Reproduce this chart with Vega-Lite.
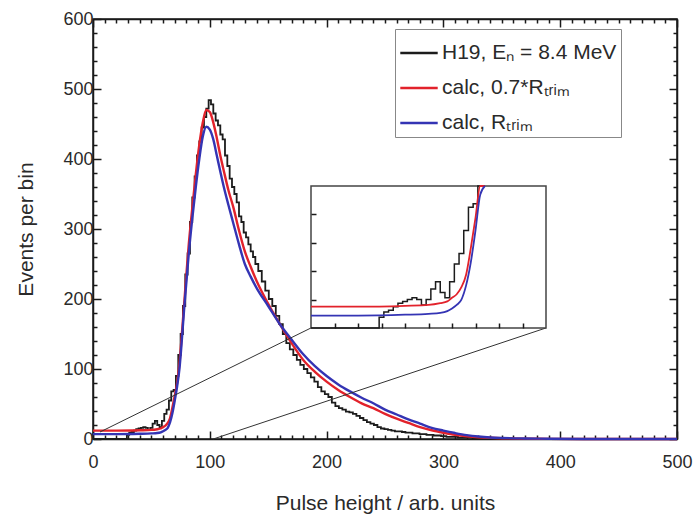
{
  "$schema": "https://vega.github.io/schema/vega-lite/v6.json",
  "width": 584,
  "height": 420,
  "autosize": {"type": "none"},
  "padding": {"left": 93, "top": 19, "right": 18, "bottom": 75},
  "datasets": {
    "curves": [
      {"ph": 0, "n": 0, "series": "H19, Eₙ = 8.4 MeV"},
      {"ph": 28, "n": 0, "series": "H19, Eₙ = 8.4 MeV"},
      {"ph": 30, "n": 6, "series": "H19, Eₙ = 8.4 MeV"},
      {"ph": 32, "n": 9, "series": "H19, Eₙ = 8.4 MeV"},
      {"ph": 34, "n": 10, "series": "H19, Eₙ = 8.4 MeV"},
      {"ph": 36, "n": 12, "series": "H19, Eₙ = 8.4 MeV"},
      {"ph": 38, "n": 14, "series": "H19, Eₙ = 8.4 MeV"},
      {"ph": 40, "n": 15, "series": "H19, Eₙ = 8.4 MeV"},
      {"ph": 42, "n": 16, "series": "H19, Eₙ = 8.4 MeV"},
      {"ph": 44, "n": 17, "series": "H19, Eₙ = 8.4 MeV"},
      {"ph": 46, "n": 16, "series": "H19, Eₙ = 8.4 MeV"},
      {"ph": 48, "n": 13, "series": "H19, Eₙ = 8.4 MeV"},
      {"ph": 50, "n": 16, "series": "H19, Eₙ = 8.4 MeV"},
      {"ph": 52, "n": 22, "series": "H19, Eₙ = 8.4 MeV"},
      {"ph": 54, "n": 26, "series": "H19, Eₙ = 8.4 MeV"},
      {"ph": 56, "n": 20, "series": "H19, Eₙ = 8.4 MeV"},
      {"ph": 58, "n": 17, "series": "H19, Eₙ = 8.4 MeV"},
      {"ph": 60, "n": 26, "series": "H19, Eₙ = 8.4 MeV"},
      {"ph": 62, "n": 36, "series": "H19, Eₙ = 8.4 MeV"},
      {"ph": 64, "n": 42, "series": "H19, Eₙ = 8.4 MeV"},
      {"ph": 66, "n": 55, "series": "H19, Eₙ = 8.4 MeV"},
      {"ph": 68, "n": 68, "series": "H19, Eₙ = 8.4 MeV"},
      {"ph": 70, "n": 70, "series": "H19, Eₙ = 8.4 MeV"},
      {"ph": 72, "n": 90, "series": "H19, Eₙ = 8.4 MeV"},
      {"ph": 74, "n": 120, "series": "H19, Eₙ = 8.4 MeV"},
      {"ph": 76, "n": 150, "series": "H19, Eₙ = 8.4 MeV"},
      {"ph": 78, "n": 190, "series": "H19, Eₙ = 8.4 MeV"},
      {"ph": 80, "n": 235, "series": "H19, Eₙ = 8.4 MeV"},
      {"ph": 82, "n": 265, "series": "H19, Eₙ = 8.4 MeV"},
      {"ph": 84, "n": 310, "series": "H19, Eₙ = 8.4 MeV"},
      {"ph": 86, "n": 345, "series": "H19, Eₙ = 8.4 MeV"},
      {"ph": 88, "n": 375, "series": "H19, Eₙ = 8.4 MeV"},
      {"ph": 90, "n": 405, "series": "H19, Eₙ = 8.4 MeV"},
      {"ph": 92, "n": 425, "series": "H19, Eₙ = 8.4 MeV"},
      {"ph": 94, "n": 445, "series": "H19, Eₙ = 8.4 MeV"},
      {"ph": 96, "n": 460, "series": "H19, Eₙ = 8.4 MeV"},
      {"ph": 98, "n": 472, "series": "H19, Eₙ = 8.4 MeV"},
      {"ph": 100, "n": 484, "series": "H19, Eₙ = 8.4 MeV"},
      {"ph": 102, "n": 478, "series": "H19, Eₙ = 8.4 MeV"},
      {"ph": 104, "n": 465, "series": "H19, Eₙ = 8.4 MeV"},
      {"ph": 106, "n": 455, "series": "H19, Eₙ = 8.4 MeV"},
      {"ph": 108, "n": 448, "series": "H19, Eₙ = 8.4 MeV"},
      {"ph": 110, "n": 435, "series": "H19, Eₙ = 8.4 MeV"},
      {"ph": 112, "n": 428, "series": "H19, Eₙ = 8.4 MeV"},
      {"ph": 114, "n": 405, "series": "H19, Eₙ = 8.4 MeV"},
      {"ph": 116, "n": 390, "series": "H19, Eₙ = 8.4 MeV"},
      {"ph": 118, "n": 372, "series": "H19, Eₙ = 8.4 MeV"},
      {"ph": 120, "n": 360, "series": "H19, Eₙ = 8.4 MeV"},
      {"ph": 122, "n": 350, "series": "H19, Eₙ = 8.4 MeV"},
      {"ph": 124, "n": 338, "series": "H19, Eₙ = 8.4 MeV"},
      {"ph": 126, "n": 318, "series": "H19, Eₙ = 8.4 MeV"},
      {"ph": 128, "n": 310, "series": "H19, Eₙ = 8.4 MeV"},
      {"ph": 130, "n": 295, "series": "H19, Eₙ = 8.4 MeV"},
      {"ph": 132, "n": 288, "series": "H19, Eₙ = 8.4 MeV"},
      {"ph": 134, "n": 278, "series": "H19, Eₙ = 8.4 MeV"},
      {"ph": 136, "n": 268, "series": "H19, Eₙ = 8.4 MeV"},
      {"ph": 138, "n": 260, "series": "H19, Eₙ = 8.4 MeV"},
      {"ph": 140, "n": 250, "series": "H19, Eₙ = 8.4 MeV"},
      {"ph": 143, "n": 240, "series": "H19, Eₙ = 8.4 MeV"},
      {"ph": 146, "n": 225, "series": "H19, Eₙ = 8.4 MeV"},
      {"ph": 149, "n": 212, "series": "H19, Eₙ = 8.4 MeV"},
      {"ph": 152, "n": 200, "series": "H19, Eₙ = 8.4 MeV"},
      {"ph": 155, "n": 190, "series": "H19, Eₙ = 8.4 MeV"},
      {"ph": 158, "n": 176, "series": "H19, Eₙ = 8.4 MeV"},
      {"ph": 161, "n": 164, "series": "H19, Eₙ = 8.4 MeV"},
      {"ph": 164, "n": 150, "series": "H19, Eₙ = 8.4 MeV"},
      {"ph": 167, "n": 137, "series": "H19, Eₙ = 8.4 MeV"},
      {"ph": 170, "n": 128, "series": "H19, Eₙ = 8.4 MeV"},
      {"ph": 173, "n": 120, "series": "H19, Eₙ = 8.4 MeV"},
      {"ph": 176, "n": 113, "series": "H19, Eₙ = 8.4 MeV"},
      {"ph": 179, "n": 106, "series": "H19, Eₙ = 8.4 MeV"},
      {"ph": 182, "n": 100, "series": "H19, Eₙ = 8.4 MeV"},
      {"ph": 185, "n": 94, "series": "H19, Eₙ = 8.4 MeV"},
      {"ph": 188, "n": 88, "series": "H19, Eₙ = 8.4 MeV"},
      {"ph": 191, "n": 82, "series": "H19, Eₙ = 8.4 MeV"},
      {"ph": 194, "n": 74, "series": "H19, Eₙ = 8.4 MeV"},
      {"ph": 197, "n": 68, "series": "H19, Eₙ = 8.4 MeV"},
      {"ph": 200, "n": 64, "series": "H19, Eₙ = 8.4 MeV"},
      {"ph": 203, "n": 60, "series": "H19, Eₙ = 8.4 MeV"},
      {"ph": 206, "n": 52, "series": "H19, Eₙ = 8.4 MeV"},
      {"ph": 209, "n": 47, "series": "H19, Eₙ = 8.4 MeV"},
      {"ph": 212, "n": 44, "series": "H19, Eₙ = 8.4 MeV"},
      {"ph": 215, "n": 42, "series": "H19, Eₙ = 8.4 MeV"},
      {"ph": 218, "n": 39, "series": "H19, Eₙ = 8.4 MeV"},
      {"ph": 221, "n": 38, "series": "H19, Eₙ = 8.4 MeV"},
      {"ph": 224, "n": 36, "series": "H19, Eₙ = 8.4 MeV"},
      {"ph": 227, "n": 33, "series": "H19, Eₙ = 8.4 MeV"},
      {"ph": 230, "n": 30, "series": "H19, Eₙ = 8.4 MeV"},
      {"ph": 233, "n": 27, "series": "H19, Eₙ = 8.4 MeV"},
      {"ph": 236, "n": 24, "series": "H19, Eₙ = 8.4 MeV"},
      {"ph": 239, "n": 22, "series": "H19, Eₙ = 8.4 MeV"},
      {"ph": 242, "n": 20, "series": "H19, Eₙ = 8.4 MeV"},
      {"ph": 245, "n": 17, "series": "H19, Eₙ = 8.4 MeV"},
      {"ph": 248, "n": 15, "series": "H19, Eₙ = 8.4 MeV"},
      {"ph": 251, "n": 14, "series": "H19, Eₙ = 8.4 MeV"},
      {"ph": 254, "n": 13, "series": "H19, Eₙ = 8.4 MeV"},
      {"ph": 257, "n": 12, "series": "H19, Eₙ = 8.4 MeV"},
      {"ph": 260, "n": 11, "series": "H19, Eₙ = 8.4 MeV"},
      {"ph": 263, "n": 11, "series": "H19, Eₙ = 8.4 MeV"},
      {"ph": 266, "n": 10, "series": "H19, Eₙ = 8.4 MeV"},
      {"ph": 269, "n": 9, "series": "H19, Eₙ = 8.4 MeV"},
      {"ph": 272, "n": 9, "series": "H19, Eₙ = 8.4 MeV"},
      {"ph": 275, "n": 8, "series": "H19, Eₙ = 8.4 MeV"},
      {"ph": 278, "n": 8, "series": "H19, Eₙ = 8.4 MeV"},
      {"ph": 281, "n": 7, "series": "H19, Eₙ = 8.4 MeV"},
      {"ph": 284, "n": 7, "series": "H19, Eₙ = 8.4 MeV"},
      {"ph": 287, "n": 6, "series": "H19, Eₙ = 8.4 MeV"},
      {"ph": 290, "n": 6, "series": "H19, Eₙ = 8.4 MeV"},
      {"ph": 293, "n": 5, "series": "H19, Eₙ = 8.4 MeV"},
      {"ph": 296, "n": 5, "series": "H19, Eₙ = 8.4 MeV"},
      {"ph": 300, "n": 4, "series": "H19, Eₙ = 8.4 MeV"},
      {"ph": 305, "n": 3, "series": "H19, Eₙ = 8.4 MeV"},
      {"ph": 310, "n": 3, "series": "H19, Eₙ = 8.4 MeV"},
      {"ph": 315, "n": 2, "series": "H19, Eₙ = 8.4 MeV"},
      {"ph": 320, "n": 2, "series": "H19, Eₙ = 8.4 MeV"},
      {"ph": 330, "n": 1, "series": "H19, Eₙ = 8.4 MeV"},
      {"ph": 340, "n": 1, "series": "H19, Eₙ = 8.4 MeV"},
      {"ph": 350, "n": 0.5, "series": "H19, Eₙ = 8.4 MeV"},
      {"ph": 370, "n": 0, "series": "H19, Eₙ = 8.4 MeV"},
      {"ph": 500, "n": 0, "series": "H19, Eₙ = 8.4 MeV"},

      {"ph": 0, "n": 12, "series": "calc, 0.7*Rₜᵣᵢₘ"},
      {"ph": 20, "n": 12, "series": "calc, 0.7*Rₜᵣᵢₘ"},
      {"ph": 40, "n": 12.5, "series": "calc, 0.7*Rₜᵣᵢₘ"},
      {"ph": 50, "n": 13, "series": "calc, 0.7*Rₜᵣᵢₘ"},
      {"ph": 55, "n": 14, "series": "calc, 0.7*Rₜᵣᵢₘ"},
      {"ph": 58, "n": 15, "series": "calc, 0.7*Rₜᵣᵢₘ"},
      {"ph": 60, "n": 17, "series": "calc, 0.7*Rₜᵣᵢₘ"},
      {"ph": 62, "n": 19, "series": "calc, 0.7*Rₜᵣᵢₘ"},
      {"ph": 64, "n": 23, "series": "calc, 0.7*Rₜᵣᵢₘ"},
      {"ph": 66, "n": 30, "series": "calc, 0.7*Rₜᵣᵢₘ"},
      {"ph": 68, "n": 45, "series": "calc, 0.7*Rₜᵣᵢₘ"},
      {"ph": 70, "n": 62, "series": "calc, 0.7*Rₜᵣᵢₘ"},
      {"ph": 72, "n": 80, "series": "calc, 0.7*Rₜᵣᵢₘ"},
      {"ph": 74, "n": 108, "series": "calc, 0.7*Rₜᵣᵢₘ"},
      {"ph": 76, "n": 148, "series": "calc, 0.7*Rₜᵣᵢₘ"},
      {"ph": 78, "n": 192, "series": "calc, 0.7*Rₜᵣᵢₘ"},
      {"ph": 80, "n": 236, "series": "calc, 0.7*Rₜᵣᵢₘ"},
      {"ph": 82, "n": 278, "series": "calc, 0.7*Rₜᵣᵢₘ"},
      {"ph": 85, "n": 330, "series": "calc, 0.7*Rₜᵣᵢₘ"},
      {"ph": 88, "n": 378, "series": "calc, 0.7*Rₜᵣᵢₘ"},
      {"ph": 91, "n": 420, "series": "calc, 0.7*Rₜᵣᵢₘ"},
      {"ph": 94, "n": 452, "series": "calc, 0.7*Rₜᵣᵢₘ"},
      {"ph": 97, "n": 470, "series": "calc, 0.7*Rₜᵣᵢₘ"},
      {"ph": 100, "n": 467, "series": "calc, 0.7*Rₜᵣᵢₘ"},
      {"ph": 103, "n": 452, "series": "calc, 0.7*Rₜᵣᵢₘ"},
      {"ph": 106, "n": 430, "series": "calc, 0.7*Rₜᵣᵢₘ"},
      {"ph": 109, "n": 405, "series": "calc, 0.7*Rₜᵣᵢₘ"},
      {"ph": 112, "n": 383, "series": "calc, 0.7*Rₜᵣᵢₘ"},
      {"ph": 116, "n": 355, "series": "calc, 0.7*Rₜᵣᵢₘ"},
      {"ph": 120, "n": 332, "series": "calc, 0.7*Rₜᵣᵢₘ"},
      {"ph": 125, "n": 298, "series": "calc, 0.7*Rₜᵣᵢₘ"},
      {"ph": 130, "n": 268, "series": "calc, 0.7*Rₜᵣᵢₘ"},
      {"ph": 135, "n": 246, "series": "calc, 0.7*Rₜᵣᵢₘ"},
      {"ph": 140, "n": 226, "series": "calc, 0.7*Rₜᵣᵢₘ"},
      {"ph": 150, "n": 193, "series": "calc, 0.7*Rₜᵣᵢₘ"},
      {"ph": 160, "n": 164, "series": "calc, 0.7*Rₜᵣᵢₘ"},
      {"ph": 170, "n": 137, "series": "calc, 0.7*Rₜᵣᵢₘ"},
      {"ph": 180, "n": 113, "series": "calc, 0.7*Rₜᵣᵢₘ"},
      {"ph": 190, "n": 96, "series": "calc, 0.7*Rₜᵣᵢₘ"},
      {"ph": 200, "n": 82, "series": "calc, 0.7*Rₜᵣᵢₘ"},
      {"ph": 210, "n": 70, "series": "calc, 0.7*Rₜᵣᵢₘ"},
      {"ph": 220, "n": 60, "series": "calc, 0.7*Rₜᵣᵢₘ"},
      {"ph": 230, "n": 51, "series": "calc, 0.7*Rₜᵣᵢₘ"},
      {"ph": 240, "n": 44, "series": "calc, 0.7*Rₜᵣᵢₘ"},
      {"ph": 250, "n": 36, "series": "calc, 0.7*Rₜᵣᵢₘ"},
      {"ph": 260, "n": 29, "series": "calc, 0.7*Rₜᵣᵢₘ"},
      {"ph": 270, "n": 23, "series": "calc, 0.7*Rₜᵣᵢₘ"},
      {"ph": 280, "n": 17, "series": "calc, 0.7*Rₜᵣᵢₘ"},
      {"ph": 290, "n": 12.5, "series": "calc, 0.7*Rₜᵣᵢₘ"},
      {"ph": 300, "n": 9, "series": "calc, 0.7*Rₜᵣᵢₘ"},
      {"ph": 310, "n": 6, "series": "calc, 0.7*Rₜᵣᵢₘ"},
      {"ph": 320, "n": 4, "series": "calc, 0.7*Rₜᵣᵢₘ"},
      {"ph": 330, "n": 2.6, "series": "calc, 0.7*Rₜᵣᵢₘ"},
      {"ph": 340, "n": 1.7, "series": "calc, 0.7*Rₜᵣᵢₘ"},
      {"ph": 350, "n": 1.1, "series": "calc, 0.7*Rₜᵣᵢₘ"},
      {"ph": 370, "n": 0.5, "series": "calc, 0.7*Rₜᵣᵢₘ"},
      {"ph": 390, "n": 0.2, "series": "calc, 0.7*Rₜᵣᵢₘ"},
      {"ph": 420, "n": 0, "series": "calc, 0.7*Rₜᵣᵢₘ"},
      {"ph": 500, "n": 0, "series": "calc, 0.7*Rₜᵣᵢₘ"},

      {"ph": 0, "n": 7, "series": "calc, Rₜᵣᵢₘ"},
      {"ph": 20, "n": 7, "series": "calc, Rₜᵣᵢₘ"},
      {"ph": 40, "n": 7.5, "series": "calc, Rₜᵣᵢₘ"},
      {"ph": 50, "n": 8, "series": "calc, Rₜᵣᵢₘ"},
      {"ph": 55, "n": 8.5, "series": "calc, Rₜᵣᵢₘ"},
      {"ph": 58, "n": 9.5, "series": "calc, Rₜᵣᵢₘ"},
      {"ph": 60, "n": 11, "series": "calc, Rₜᵣᵢₘ"},
      {"ph": 62, "n": 13, "series": "calc, Rₜᵣᵢₘ"},
      {"ph": 64, "n": 16, "series": "calc, Rₜᵣᵢₘ"},
      {"ph": 66, "n": 24, "series": "calc, Rₜᵣᵢₘ"},
      {"ph": 68, "n": 37, "series": "calc, Rₜᵣᵢₘ"},
      {"ph": 70, "n": 55, "series": "calc, Rₜᵣᵢₘ"},
      {"ph": 72, "n": 75, "series": "calc, Rₜᵣᵢₘ"},
      {"ph": 74, "n": 100, "series": "calc, Rₜᵣᵢₘ"},
      {"ph": 76, "n": 140, "series": "calc, Rₜᵣᵢₘ"},
      {"ph": 78, "n": 185, "series": "calc, Rₜᵣᵢₘ"},
      {"ph": 80, "n": 225, "series": "calc, Rₜᵣᵢₘ"},
      {"ph": 82, "n": 265, "series": "calc, Rₜᵣᵢₘ"},
      {"ph": 85, "n": 315, "series": "calc, Rₜᵣᵢₘ"},
      {"ph": 88, "n": 360, "series": "calc, Rₜᵣᵢₘ"},
      {"ph": 91, "n": 400, "series": "calc, Rₜᵣᵢₘ"},
      {"ph": 94, "n": 432, "series": "calc, Rₜᵣᵢₘ"},
      {"ph": 97, "n": 446, "series": "calc, Rₜᵣᵢₘ"},
      {"ph": 100, "n": 442, "series": "calc, Rₜᵣᵢₘ"},
      {"ph": 103, "n": 428, "series": "calc, Rₜᵣᵢₘ"},
      {"ph": 106, "n": 405, "series": "calc, Rₜᵣᵢₘ"},
      {"ph": 109, "n": 382, "series": "calc, Rₜᵣᵢₘ"},
      {"ph": 112, "n": 360, "series": "calc, Rₜᵣᵢₘ"},
      {"ph": 116, "n": 334, "series": "calc, Rₜᵣᵢₘ"},
      {"ph": 120, "n": 309, "series": "calc, Rₜᵣᵢₘ"},
      {"ph": 125, "n": 278, "series": "calc, Rₜᵣᵢₘ"},
      {"ph": 130, "n": 250, "series": "calc, Rₜᵣᵢₘ"},
      {"ph": 135, "n": 232, "series": "calc, Rₜᵣᵢₘ"},
      {"ph": 140, "n": 216, "series": "calc, Rₜᵣᵢₘ"},
      {"ph": 150, "n": 190, "series": "calc, Rₜᵣᵢₘ"},
      {"ph": 160, "n": 164, "series": "calc, Rₜᵣᵢₘ"},
      {"ph": 170, "n": 142, "series": "calc, Rₜᵣᵢₘ"},
      {"ph": 180, "n": 121, "series": "calc, Rₜᵣᵢₘ"},
      {"ph": 190, "n": 104, "series": "calc, Rₜᵣᵢₘ"},
      {"ph": 200, "n": 90, "series": "calc, Rₜᵣᵢₘ"},
      {"ph": 210, "n": 78, "series": "calc, Rₜᵣᵢₘ"},
      {"ph": 220, "n": 68, "series": "calc, Rₜᵣᵢₘ"},
      {"ph": 230, "n": 59, "series": "calc, Rₜᵣᵢₘ"},
      {"ph": 240, "n": 51, "series": "calc, Rₜᵣᵢₘ"},
      {"ph": 250, "n": 42, "series": "calc, Rₜᵣᵢₘ"},
      {"ph": 260, "n": 35, "series": "calc, Rₜᵣᵢₘ"},
      {"ph": 270, "n": 28, "series": "calc, Rₜᵣᵢₘ"},
      {"ph": 280, "n": 22, "series": "calc, Rₜᵣᵢₘ"},
      {"ph": 290, "n": 16, "series": "calc, Rₜᵣᵢₘ"},
      {"ph": 300, "n": 12, "series": "calc, Rₜᵣᵢₘ"},
      {"ph": 310, "n": 8.5, "series": "calc, Rₜᵣᵢₘ"},
      {"ph": 320, "n": 5.5, "series": "calc, Rₜᵣᵢₘ"},
      {"ph": 330, "n": 3.5, "series": "calc, Rₜᵣᵢₘ"},
      {"ph": 340, "n": 2.2, "series": "calc, Rₜᵣᵢₘ"},
      {"ph": 350, "n": 1.5, "series": "calc, Rₜᵣᵢₘ"},
      {"ph": 370, "n": 0.8, "series": "calc, Rₜᵣᵢₘ"},
      {"ph": 390, "n": 0.4, "series": "calc, Rₜᵣᵢₘ"},
      {"ph": 420, "n": 0.1, "series": "calc, Rₜᵣᵢₘ"},
      {"ph": 500, "n": 0, "series": "calc, Rₜᵣᵢₘ"}
    ],
    "connectors": [
      {"x1": 6, "y1": 10, "x2": 186.6, "y2": 158.6},
      {"x1": 103, "y1": 0, "x2": 387.8, "y2": 158.6}
    ]
  },
  "config": {
    "font": "Liberation Sans",
    "view": {"stroke": "#1a1a1a", "strokeWidth": 1.5},
    "axis": {
      "labelFont": "Liberation Sans",
      "titleFont": "Liberation Sans",
      "labelColor": "#2a2a2a",
      "titleColor": "#2a2a2a",
      "titleFontWeight": "normal",
      "domainColor": "#1a1a1a",
      "domainWidth": 1.5,
      "tickColor": "#1a1a1a",
      "tickWidth": 1.5,
      "grid": false
    }
  },
  "layer": [
    {
      "layer": [
        {
          "data": {"name": "curves"},
          "transform": [{"filter": "datum.series === 'H19, Eₙ = 8.4 MeV'"}],
          "mark": {"type": "line", "interpolate": "step", "strokeWidth": 1.8},
          "encoding": {
            "x": {
              "field": "ph", "type": "quantitative",
              "scale": {"domain": [0, 500], "nice": false},
              "axis": {
                "orient": "bottom",
                "title": "Pulse height / arb. units",
                "titleFontSize": 21,
                "titlePadding": 21,
                "values": [0,10,20,30,40,50,60,70,80,90,100,110,120,130,140,150,160,170,180,190,200,210,220,230,240,250,260,270,280,290,300,310,320,330,340,350,360,370,380,390,400,410,420,430,440,450,460,470,480,490,500],
                "labelExpr": "datum.value % 100 === 0 ? datum.label : ''",
                "labelFontSize": 18,
                "labelPadding": 22,
                "labelFlush": false,
                "tickSize": {"condition": {"test": "datum.value % 100 === 0", "value": -8}, "value": -4}
              }
            },
            "y": {
              "field": "n", "type": "quantitative",
              "scale": {"domain": [0, 600], "nice": false},
              "axis": {
                "orient": "left",
                "title": "Events per bin",
                "titleFontSize": 21,
                "titlePadding": 26,
                "values": [0,20,40,60,80,100,120,140,160,180,200,220,240,260,280,300,320,340,360,380,400,420,440,460,480,500,520,540,560,580,600],
                "labelExpr": "datum.value % 100 === 0 ? datum.label : ''",
                "labelFontSize": 18,
                "labelPadding": 8,
                "labelFlush": false,
                "tickSize": {"condition": {"test": "datum.value % 100 === 0", "value": -8}, "value": -4}
              }
            },
            "color": {
              "field": "series", "type": "nominal",
              "scale": {
                "domain": ["H19, Eₙ = 8.4 MeV", "calc, 0.7*Rₜᵣᵢₘ", "calc, Rₜᵣᵢₘ"],
                "range": ["#1c1c1c", "#e2222b", "#3434b4"]
              },
              "legend": {
                "title": null,
                "orient": "none",
                "legendX": 302,
                "legendY": 10,
                "fillColor": "white",
                "strokeColor": "#888888",
                "padding": 4,
                "labelFont": "Liberation Sans",
                "labelFontSize": 21,
                "labelLimit": 400,
                "labelColor": "#2a2a2a",
                "labelOffset": 3,
                "symbolType": "stroke",
                "symbolSize": 1400,
                "symbolStrokeWidth": 2.5,
                "rowPadding": 5
              }
            }
          }
        },
        {
          "data": {"name": "curves"},
          "transform": [{"filter": "datum.series !== 'H19, Eₙ = 8.4 MeV'"}],
          "mark": {"type": "line", "interpolate": "monotone", "strokeWidth": 2.4},
          "encoding": {
            "x": {"field": "ph", "type": "quantitative", "axis": null},
            "y": {"field": "n", "type": "quantitative", "axis": null},
            "color": {"field": "series", "type": "nominal"}
          }
        },
        {
          "data": {"name": "connectors"},
          "mark": {"type": "rule", "color": "#333333", "strokeWidth": 1},
          "encoding": {
            "x": {
              "field": "x1", "type": "quantitative",
              "axis": {
                "orient": "top", "title": null, "labels": false,
                "values": [0,10,20,30,40,50,60,70,80,90,100,110,120,130,140,150,160,170,180,190,200,210,220,230,240,250,260,270,280,290,300,310,320,330,340,350,360,370,380,390,400,410,420,430,440,450,460,470,480,490,500],
                "tickSize": {"condition": {"test": "datum.value % 100 === 0", "value": -8}, "value": -4}
              }
            },
            "y": {
              "field": "y1", "type": "quantitative",
              "axis": {
                "orient": "right", "title": null, "labels": false,
                "values": [0,20,40,60,80,100,120,140,160,180,200,220,240,260,280,300,320,340,360,380,400,420,440,460,480,500,520,540,560,580,600],
                "tickSize": {"condition": {"test": "datum.value % 100 === 0", "value": -8}, "value": -4}
              }
            },
            "x2": {"field": "x2"},
            "y2": {"field": "y2"}
          }
        }
      ],
      "resolve": {"axis": {"x": "independent", "y": "independent"}}
    },
    {
      "data": {"values": [{"box": "inset"}]},
      "mark": {"type": "rect", "fill": "white", "stroke": "#444444", "strokeWidth": 1.5},
      "encoding": {
        "x": {
          "datum": 0, "type": "quantitative",
          "scale": {"domain": [0, 100], "range": [218, 453], "nice": false},
          "axis": {
            "orient": "bottom", "offset": -111, "title": null, "labels": false, "domain": false,
            "values": [10,20,30,40,50,60,70,80,90],
            "tickSize": {"condition": {"test": "datum.value > 0", "value": -5}, "value": -5},
            "zindex": 1
          }
        },
        "x2": {"datum": 100},
        "y": {
          "datum": 0, "type": "quantitative",
          "scale": {"domain": [0, 80], "range": [309, 167], "nice": false},
          "axis": {
            "orient": "left", "offset": -218, "title": null, "labels": false, "domain": false,
            "values": [16, 32, 48, 64],
            "tickSize": {"condition": {"test": "datum.value > 0", "value": -5}, "value": -5},
            "zindex": 1
          }
        },
        "y2": {"datum": 80}
      }
    },
    {
      "data": {"name": "curves"},
      "transform": [{"filter": "datum.series === 'H19, Eₙ = 8.4 MeV' && datum.ph <= 74"}],
      "mark": {"type": "line", "interpolate": "step", "strokeWidth": 1.5},
      "encoding": {
        "x": {
          "field": "ph", "type": "quantitative",
          "scale": {"domain": [0, 100], "range": [218, 453], "nice": false},
          "axis": null
        },
        "y": {
          "field": "n", "type": "quantitative",
          "scale": {"domain": [0, 80], "range": [309, 167], "nice": false, "clamp": true},
          "axis": null
        },
        "color": {"field": "series", "type": "nominal"}
      }
    },
    {
      "data": {"name": "curves"},
      "transform": [{"filter": "datum.series !== 'H19, Eₙ = 8.4 MeV' && datum.ph <= 74"}],
      "mark": {"type": "line", "interpolate": "monotone", "strokeWidth": 1.8},
      "encoding": {
        "x": {
          "field": "ph", "type": "quantitative",
          "scale": {"domain": [0, 100], "range": [218, 453], "nice": false},
          "axis": null
        },
        "y": {
          "field": "n", "type": "quantitative",
          "scale": {"domain": [0, 80], "range": [309, 167], "nice": false, "clamp": true},
          "axis": null
        },
        "color": {"field": "series", "type": "nominal"}
      }
    }
  ],
  "resolve": {
    "scale": {"x": "independent", "y": "independent"},
    "axis": {"x": "independent", "y": "independent"}
  }
}
